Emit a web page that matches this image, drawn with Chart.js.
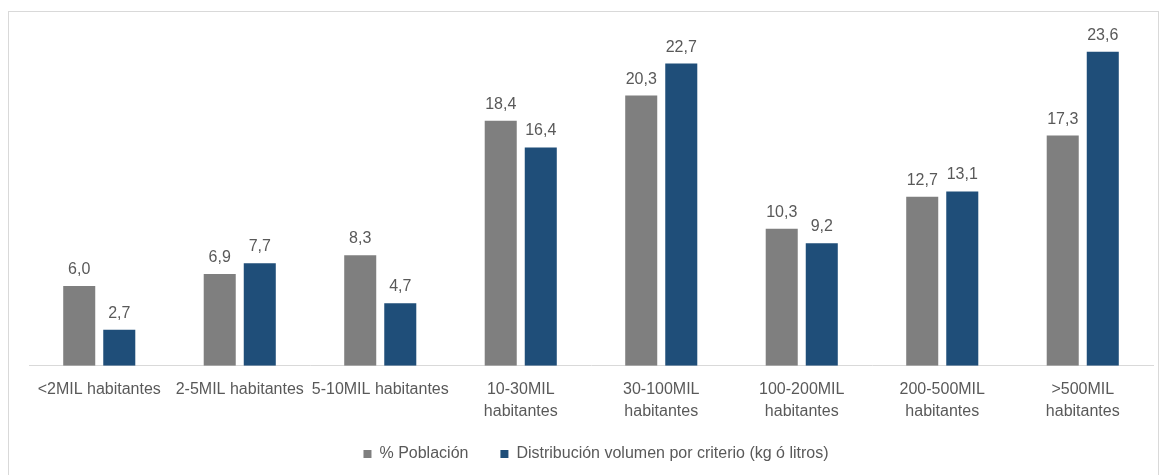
<!DOCTYPE html>
<html><head><meta charset="utf-8">
<script src="https://cdn.jsdelivr.net/npm/chart.js@4"></script>
<style>
html,body{margin:0;padding:0;background:#fff;}
#wrap{position:relative;width:1163px;height:475px;}
#frame{position:absolute;left:8px;top:11px;width:1151px;height:470px;border:1px solid #d9d9d9;box-sizing:border-box;}
canvas{position:absolute;left:0;top:0;}
</style></head>
<body>
<div id="wrap"><div id="frame"></div><canvas id="c" width="1163" height="475"></canvas></div>
<script>
const categories = ['<2MIL habitantes','2-5MIL habitantes','5-10MIL habitantes',['10-30MIL','habitantes'],['30-100MIL','habitantes'],['100-200MIL','habitantes'],['200-500MIL','habitantes'],['>500MIL','habitantes']];
const poblacion = [6.0, 6.9, 8.3, 18.4, 20.3, 10.3, 12.7, 17.3];
const distribucion = [2.7, 7.7, 4.7, 16.4, 22.7, 9.2, 13.1, 23.6];
const seriesNames = ['% Población', 'Distribución volumen por criterio (kg ó litros)'];
const FONT = 'Liberation Sans';
const TXT = '#595959';

const labelPlugin = {
  id: 'valLabels',
  afterLayout(chart) {
    const lg = chart.legend;
    if (lg) {
      lg.left += 5; lg.right += 5;
      lg.top -= 13; lg.bottom -= 13;
    }
  },
  afterDatasetsDraw(chart) {
    const ctx = chart.ctx;
    ctx.save();
    ctx.font = '16px "' + FONT + '"';
    ctx.fillStyle = TXT;
    ctx.textAlign = 'center';
    ctx.textBaseline = 'alphabetic';
    chart.data.datasets.forEach((ds, i) => {
      const meta = chart.getDatasetMeta(i);
      meta.data.forEach((el, j) => {
        const t = ds.data[j].toFixed(1).replace('.', ',');
        ctx.fillText(t, el.x, el.y - 12);
      });
    });
    ctx.restore();
  }
};

new Chart(document.getElementById('c'), {
  type: 'bar',
  data: {
    labels: categories,
    datasets: [
      { label: seriesNames[0], data: poblacion, backgroundColor: '#7f7f7f' },
      { label: seriesNames[1], data: distribucion, backgroundColor: '#1f4e79' }
    ]
  },
  options: {
    responsive: false,
    animation: false,
    devicePixelRatio: 1,
    categoryPercentage: 0.57,
    barPercentage: 0.8,
    layout: { padding: { left: 29, right: 10, top: 33, bottom: -10 } },
    scales: {
      y: { display: false, min: 0, max: 25 },
      x: {
        grid: { display: false },
        border: { color: '#d9d9d9', width: 1 },
        ticks: { color: TXT, font: { family: FONT, size: 16, lineHeight: 1.35 }, maxRotation: 0, autoSkip: false, padding: 5 }
      }
    },
    plugins: {
      tooltip: { enabled: false },
      legend: {
        position: 'bottom',
        labels: { color: TXT, font: { family: FONT, size: 16 }, boxWidth: 8, boxHeight: 8, padding: 32 }
      }
    }
  },
  plugins: [labelPlugin]
});
</script>
</body></html>
